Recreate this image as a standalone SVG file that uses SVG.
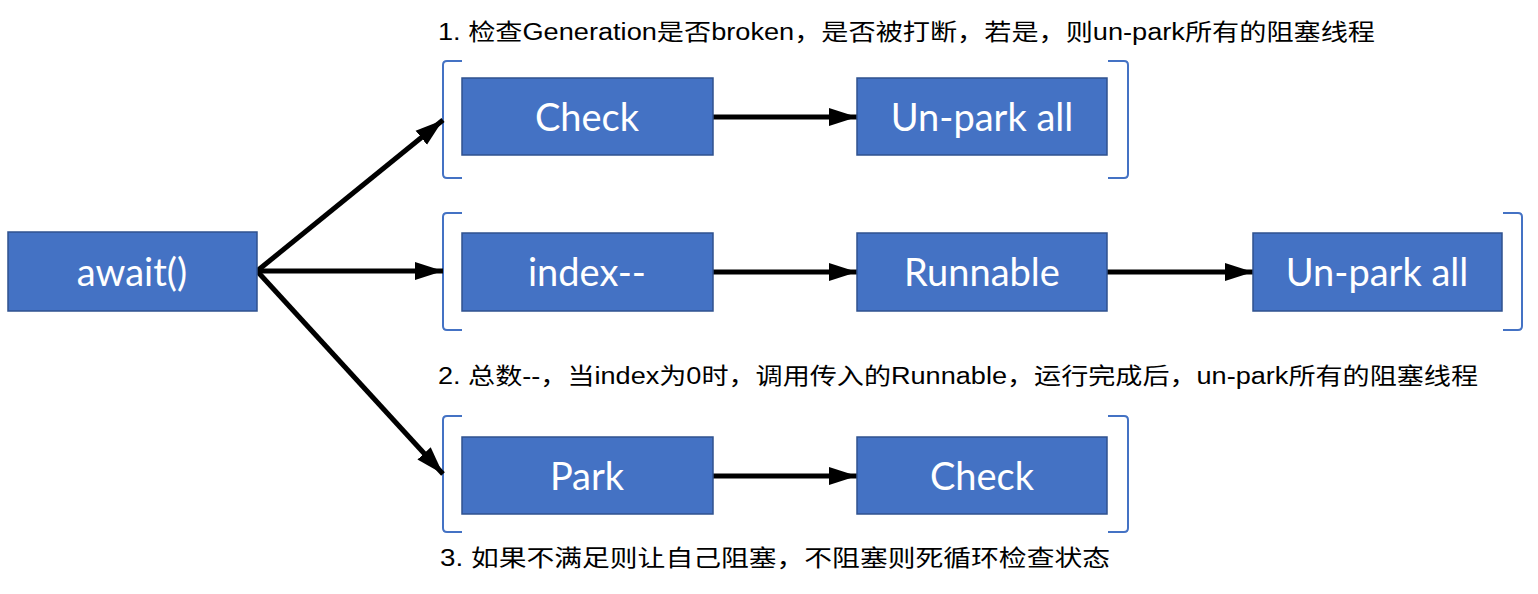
<svg xmlns="http://www.w3.org/2000/svg" width="1538" height="594" viewBox="0 0 1538 594">
<style>
.box{fill:#4472C4;stroke:#2F528F;stroke-width:1.5}
.bt{fill:#fff;font-family:Lato,"Open Sans",sans-serif;font-size:38px;text-anchor:middle;dominant-baseline:central}
.br{fill:none;stroke:#4472C4;stroke-width:2}
.cap{fill:#000;font-family:"Liberation Sans","Noto Sans CJK SC",sans-serif;font-size:23px}
.ar{fill:none;stroke:#000;stroke-width:5}
</style>
<defs>
<marker id="ah" markerUnits="userSpaceOnUse" markerWidth="28" markerHeight="20" viewBox="0 0 28 20" refX="28" refY="10" orient="auto">
<path d="M0,1 L28,10 L0,19 Z" fill="#000"/>
</marker>
</defs>
<rect width="1538" height="594" fill="#fff"/>
<g id="brackets">
<path class="br" d="M462,61 H447 Q443,61 443,65 V174 Q443,178 447,178 H462"/>
<path class="br" d="M1108,61 H1124 Q1128,61 1128,65 V174 Q1128,178 1124,178 H1108"/>
<path class="br" d="M462,213 H447 Q443,213 443,217 V326 Q443,330 447,330 H462"/>
<path class="br" d="M1503,213 H1518 Q1522,213 1522,217 V326 Q1522,330 1518,330 H1503"/>
<path class="br" d="M462,416 H447 Q443,416 443,420 V528 Q443,532 447,532 H462"/>
<path class="br" d="M1108,416 H1124 Q1128,416 1128,420 V528 Q1128,532 1124,532 H1108"/>
</g>
<g id="connectors">
<line class="ar" x1="257" y1="271" x2="443" y2="120" marker-end="url(#ah)"/>
<line class="ar" x1="257" y1="271" x2="443" y2="271" marker-end="url(#ah)"/>
<line class="ar" x1="257" y1="271" x2="443" y2="474" marker-end="url(#ah)"/>
<line class="ar" x1="713" y1="117" x2="857" y2="117" marker-end="url(#ah)"/>
<line class="ar" x1="713" y1="272" x2="857" y2="272" marker-end="url(#ah)"/>
<line class="ar" x1="1107" y1="272" x2="1253" y2="272" marker-end="url(#ah)"/>
<line class="ar" x1="713" y1="476" x2="857" y2="476" marker-end="url(#ah)"/>
</g>
<g id="await"><rect class="box" x="8" y="232" width="249" height="79"/><text class="bt" x="132" y="271">await()</text></g>
<g id="check1"><rect class="box" x="462" y="78" width="251" height="77"/><text class="bt" x="587" y="116">Check</text></g>
<g id="unpark1"><rect class="box" x="857" y="78" width="250" height="77"/><text class="bt" x="982" y="116">Un-park all</text></g>
<g id="index"><rect class="box" x="462" y="233" width="251" height="78"/><text class="bt" x="587" y="271">index--</text></g>
<g id="runnable"><rect class="box" x="857" y="233" width="250" height="78"/><text class="bt" x="982" y="271">Runnable</text></g>
<g id="unpark2"><rect class="box" x="1253" y="233" width="249" height="78"/><text class="bt" x="1377" y="271">Un-park all</text></g>
<g id="park"><rect class="box" x="462" y="437" width="251" height="77"/><text class="bt" x="587" y="475">Park</text></g>
<g id="check2"><rect class="box" x="857" y="437" width="250" height="77"/><text class="bt" x="982" y="475">Check</text></g>
<g id="captions">
<text class="cap" x="438" y="40" textLength="937" lengthAdjust="spacingAndGlyphs">1. 检查Generation是否broken，是否被打断，若是，则un-park所有的阻塞线程</text>
<text class="cap" x="438" y="384" textLength="1040" lengthAdjust="spacingAndGlyphs">2. 总数--，当index为0时，调用传入的Runnable，运行完成后，un-park所有的阻塞线程</text>
<text class="cap" x="440" y="566" textLength="670" lengthAdjust="spacingAndGlyphs">3. 如果不满足则让自己阻塞，不阻塞则死循环检查状态</text>
</g>
</svg>
